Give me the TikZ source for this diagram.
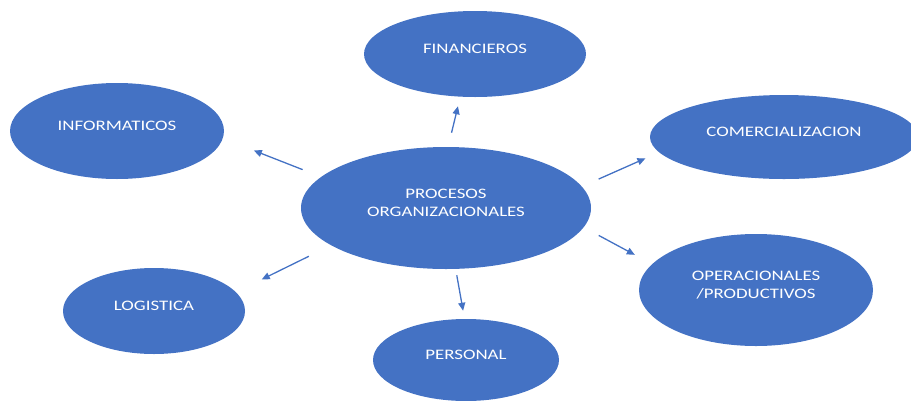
\documentclass[tikz,border=0pt]{standalone}
\usepackage{fontspec}
\setmainfont{Carlito}[FakeStretch=1.3]
\usetikzlibrary{shapes.geometric,arrows.meta}
\definecolor{azul}{HTML}{4472C4}
\tikzset{
	burbuja/.style={ellipse, fill=azul, text=white, inner sep=0pt, align=center, text depth=10pt,
		font=\fontsize{14.5}{17.5}\selectfont},
	flecha/.style={-{Triangle[length=8pt,width=7pt]}, draw=azul, line width=1.3pt}
}
\begin{document}
\begin{tikzpicture}[x=1pt,y=-1pt]
			\useasboundingbox (0,0) rectangle (911,400);
			% centro
			\node[burbuja, minimum width=290pt, minimum height=122pt] (proc) at (446,208) {PROCESOS\\ORGANIZACIONALES};
			% alrededor
			\node[burbuja, minimum width=222pt, minimum height=86pt] (fin) at (475,54) {FINANCIEROS};
			\node[burbuja, minimum width=214pt, minimum height=96pt] (info) at (117,131) {INFORMATICOS};
			\node[burbuja, minimum width=268pt, minimum height=84pt] (comer) at (784,137) {COMERCIALIZACION};
			\node[burbuja, minimum width=234pt, minimum height=112pt] (oper) at (756,290) {OPERACIONALES\\/PRODUCTIVOS};
			\node[burbuja, minimum width=182pt, minimum height=86pt] (logi) at (154,311) {LOGISTICA};
			\node[burbuja, minimum width=186pt, minimum height=82pt] (pers) at (466,360) {PERSONAL};
			% flechas: destino / angulo salida / angulo llegada / huecos
			\foreach \dst/\a/\b/\ga/\gb in {fin/88.7/251.1/14.5/9.7, info/166.8/-4.8/19.8/33.2, comer/9.3/187.6/18.3/14.8,
				oper/-8.9/166.5/17/19.5, logi/198/13.6/24.7/28.7, pers/279.3/92.3/6.3/8.2}
			{ \draw[flecha, shorten <=\ga pt, shorten >=\gb pt] (proc.\a) -- (\dst.\b); }
		\end{tikzpicture}
\end{document}
